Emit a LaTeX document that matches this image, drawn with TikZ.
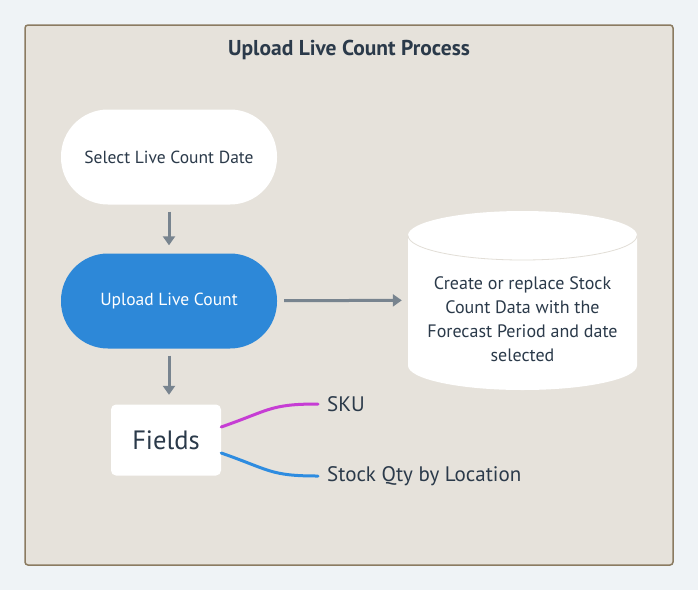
\documentclass[tikz,border=0pt]{standalone}
\usepackage{fontspec}
\setmainfont{PT Sans}
\usetikzlibrary{positioning,arrows.meta}

\definecolor{pagebg}{HTML}{EFF3F6}
\definecolor{framebg}{HTML}{E6E2DB}
\definecolor{frameline}{HTML}{8B7B61}
\definecolor{inkdark}{HTML}{2B3A4A}
\definecolor{arrowgray}{HTML}{78848F}
\definecolor{stepblue}{HTML}{2D88D8}
\definecolor{skuline}{HTML}{C63DD4}
\definecolor{qtyline}{HTML}{2E8CE0}

\tikzset{
    stadium/.style={rounded corners=47pt, minimum width=216pt, minimum height=95pt,
        font=\fontsize{17.5}{21}\selectfont, text=inkdark, fill=white},
    flowarrow/.style={draw=arrowgray, line width=3pt, -{Triangle[width=12pt,length=9pt]}},
    leafline/.style={line width=3pt, line cap=round},
    leaftext/.style={anchor=west, font=\fontsize{21}{25}\selectfont, text=inkdark, inner sep=0pt}
}

\begin{document}
\begin{tikzpicture}[x=1pt,y=-1pt]
    \useasboundingbox[fill=pagebg] (0,0) rectangle (698,590);
    \draw[fill=framebg, draw=frameline, line width=1.5pt, rounded corners=3pt] (25,25) rectangle (673,565);
    \node[font=\bfseries\fontsize{21.5}{25}\selectfont, text=inkdark] (title) at (349,50) {Upload Live Count Process};

    \node[stadium] (select) at (169,157) {Select Live Count Date};
    \node[stadium, fill=stepblue, text=white] (upload) at (169,301) {Upload Live Count};

    \fill[white] (408,235.5) arc[start angle=180, end angle=360, x radius=114.5, y radius=24.5]
        -- (637,365.5) arc[start angle=0, end angle=180, x radius=114.5, y radius=24.5] -- cycle;
    \draw[frameline!25, line width=0.8pt] (408,235.5) arc[start angle=180, end angle=0, x radius=114.5, y radius=24.5];
    \node[minimum width=229pt, minimum height=180pt, inner sep=0pt] (db) at (522.5,300) {};
    \node[align=center, font=\fontsize{18}{24}\selectfont, text=inkdark] (dbtext) at (522.5,319)
        {Create or replace Stock\\Count Data with the\\Forecast Period and date\\selected};

    \node[fill=white, rounded corners=5pt, minimum width=110pt, minimum height=71pt,
        font=\fontsize{26.5}{30}\selectfont, text=inkdark] (fields) at (166,440) {Fields};

    \node[leaftext] (sku) at (327,404) {SKU};
    \node[leaftext] (qty) at (327,476) {Stock Qty by Location};

    \draw[flowarrow, shorten <=7pt, shorten >=8pt] (select) -- (upload);
    \draw[flowarrow, shorten <=7pt, shorten >=6pt] (upload) -- (db);
    \draw[flowarrow, shorten <=7pt, shorten >=9.5pt] (upload.south) -- (upload.south |- fields.north);

    \draw[leafline, draw=skuline] (fields.east |- 0,427) .. controls (270,410) and (270,404) .. (318,404);
    \draw[leafline, draw=qtyline] (fields.east |- 0,453) .. controls (270,470) and (270,476) .. (318,476);
\end{tikzpicture}
\end{document}
